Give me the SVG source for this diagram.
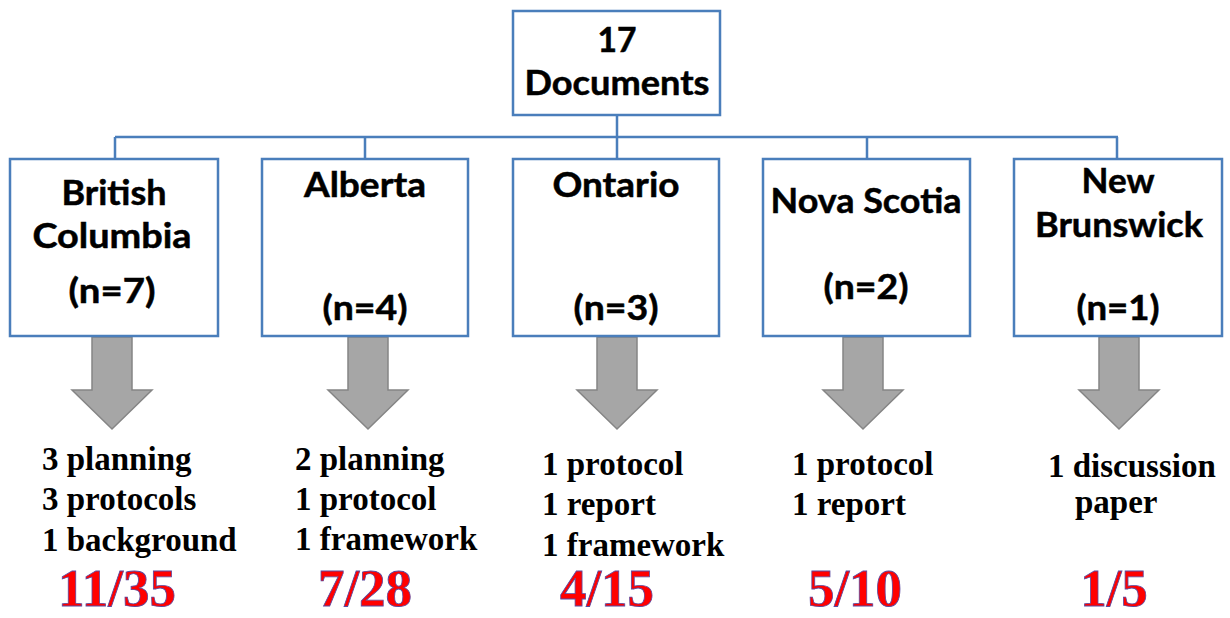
<svg xmlns="http://www.w3.org/2000/svg" xmlns:xlink="http://www.w3.org/1999/xlink" width="1230" height="618" viewBox="0 0 1230 618">
  <style>
    .box { fill: #ffffff; stroke: #4a7ebb; stroke-width: 2.5; }
    .tree { fill: none; stroke: #4a7ebb; stroke-width: 2.5; }
    .blk { fill: #a6a6a6; stroke: #858585; stroke-width: 1.5; stroke-linejoin: miter; }
    .lbl { font-family: Lato, "Open Sans", "Liberation Sans", sans-serif; font-weight: 700; font-size: 34px; fill: #000000; stroke: #000000; stroke-width: 0.5; text-anchor: middle; }
    .lst { font-family: "Liberation Serif", "Times New Roman", serif; font-weight: 700; font-size: 33px; fill: #000000; }
    .ratio { font-family: "Liberation Serif", "Times New Roman", serif; font-weight: 700; font-size: 53px; fill: #ff0000; stroke: #5a4aa0; stroke-width: 0.8; text-anchor: middle; }
  </style>
  <defs>
    <!-- downward block arrow, origin at the top centre of its shaft -->
    <path id="downArrow" class="blk" d="M -20 0 L 20 0 L 20 53 L 40 53 L 0 92 L -40 53 L -20 53 Z"/>
  </defs>

  <rect width="1230" height="618" fill="#ffffff"/>

  <!-- tree lines and block arrows -->
  <g id="connectors">
    <path class="tree" d="M 617 115 V 137 M 115 137 H 1118 M 115 137 V 159 M 365 137 V 159 M 617 137 V 159 M 867 137 V 159 M 1117 137 V 159"/>
    <use xlink:href="#downArrow" x="112" y="337"/>
    <use xlink:href="#downArrow" x="368" y="337"/>
    <use xlink:href="#downArrow" x="617" y="337"/>
    <use xlink:href="#downArrow" x="863" y="337"/>
    <use xlink:href="#downArrow" x="1119" y="337"/>
  </g>

  <g id="root">
    <rect class="box" x="513" y="11" width="207" height="104"/>
    <text class="lbl" x="617" y="52" textLength="39" lengthAdjust="spacingAndGlyphs">17</text>
    <text class="lbl" x="617" y="95" textLength="185" lengthAdjust="spacingAndGlyphs">Documents</text>
  </g>

  <g id="british-columbia">
    <rect class="box" x="10" y="159" width="208" height="177"/>
    <text class="lbl" x="114" y="205" textLength="105" lengthAdjust="spacingAndGlyphs">British</text>
    <text class="lbl" x="112" y="248" textLength="159" lengthAdjust="spacingAndGlyphs">Columbia</text>
    <text class="lbl" x="112" y="303" textLength="87" lengthAdjust="spacingAndGlyphs">(n=7)</text>
  </g>

  <g id="alberta">
    <rect class="box" x="262" y="159" width="206" height="177"/>
    <text class="lbl" x="365" y="197" textLength="122" lengthAdjust="spacingAndGlyphs">Alberta</text>
    <text class="lbl" x="365" y="320" textLength="85" lengthAdjust="spacingAndGlyphs">(n=4)</text>
  </g>

  <g id="ontario">
    <rect class="box" x="513" y="159" width="206" height="177"/>
    <text class="lbl" x="616" y="197" textLength="127" lengthAdjust="spacingAndGlyphs">Ontario</text>
    <text class="lbl" x="616" y="320" textLength="85" lengthAdjust="spacingAndGlyphs">(n=3)</text>
  </g>

  <g id="nova-scotia">
    <rect class="box" x="763" y="159" width="207" height="177"/>
    <text class="lbl" x="866" y="213" textLength="191" lengthAdjust="spacingAndGlyphs">Nova Scotia</text>
    <text class="lbl" x="866" y="299" textLength="85" lengthAdjust="spacingAndGlyphs">(n=2)</text>
  </g>

  <g id="new-brunswick">
    <rect class="box" x="1014" y="159" width="208" height="177"/>
    <text class="lbl" x="1118" y="193" textLength="73" lengthAdjust="spacingAndGlyphs">New</text>
    <text class="lbl" x="1119" y="237" textLength="168" lengthAdjust="spacingAndGlyphs">Brunswick</text>
    <text class="lbl" x="1118" y="320" textLength="83" lengthAdjust="spacingAndGlyphs">(n=1)</text>
  </g>

  <g id="bc-summary">
    <text class="lst" x="42" y="470">3 planning</text>
    <text class="lst" x="42" y="510">3 protocols</text>
    <text class="lst" x="42" y="551">1 background</text>
    <text class="ratio" x="117" y="606">11/35</text>
  </g>

  <g id="ab-summary">
    <text class="lst" x="295" y="470">2 planning</text>
    <text class="lst" x="295" y="510">1 protocol</text>
    <text class="lst" x="295" y="550">1 framework</text>
    <text class="ratio" x="365" y="606">7/28</text>
  </g>

  <g id="on-summary">
    <text class="lst" x="542" y="475">1 protocol</text>
    <text class="lst" x="542" y="515">1 report</text>
    <text class="lst" x="542" y="556">1 framework</text>
    <text class="ratio" x="607" y="606">4/15</text>
  </g>

  <g id="ns-summary">
    <text class="lst" x="792" y="475">1 protocol</text>
    <text class="lst" x="792" y="515">1 report</text>
    <text class="ratio" x="855" y="606">5/10</text>
  </g>

  <g id="nb-summary">
    <text class="lst" x="1048" y="477">1 discussion</text>
    <text class="lst" x="1075" y="513">paper</text>
    <text class="ratio" x="1114" y="606">1/5</text>
  </g>
</svg>
